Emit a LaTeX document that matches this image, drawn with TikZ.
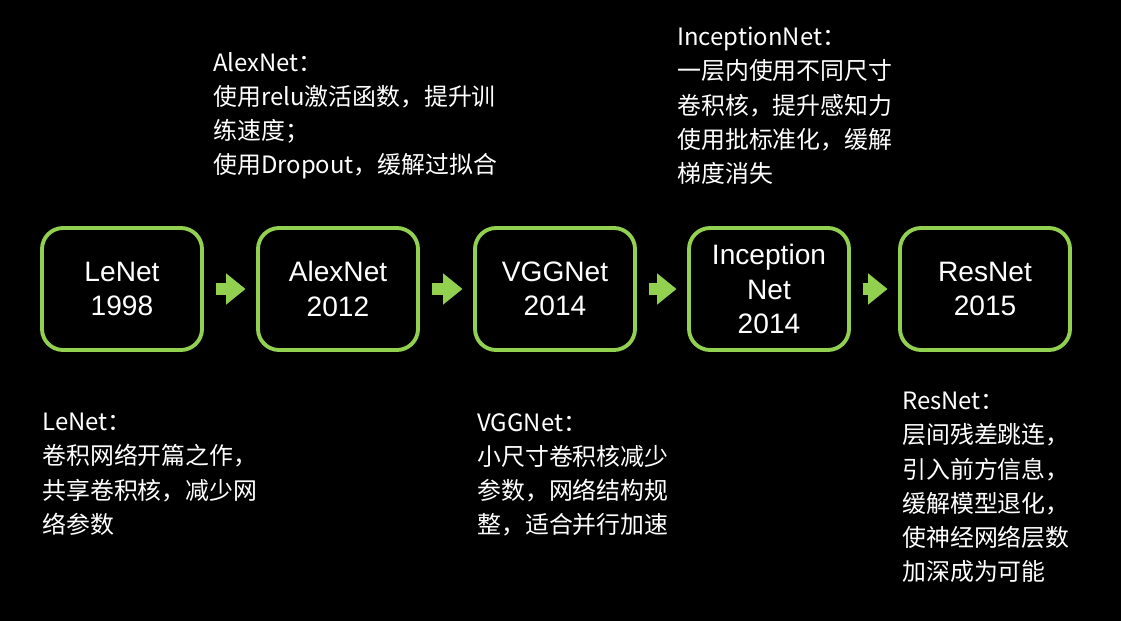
\documentclass[tikz,border=0pt]{standalone}
\usepackage{fontspec}
\setmainfont{Liberation Sans}
\newfontfamily\cjk{Noto Sans CJK SC}
\usetikzlibrary{positioning,arrows.meta}
\definecolor{netgreen}{HTML}{92D050}
\tikzstyle{net}=[draw=netgreen,line width=2.2pt,rounded corners=12pt,fill=black,
  text=white,minimum width=160*0.02cm,minimum height=122*0.02cm,align=center,
  font=\fontsize{16}{19.5}\selectfont,inner sep=2pt]
\tikzstyle{note}=[anchor=north west,text=white,align=left,inner sep=0pt,
  font=\cjk\fontsize{13.6}{19.4}\selectfont]
\tikzstyle{step arrow}=[draw=netgreen,line width=7pt,-{Triangle[length=11pt,width=17pt]}]
\newcommand{\newNet}[3]{\node[net](#1) at (#2){#3};}
\newcommand{\newStep}[2]{\draw[step arrow] ([xshift=7pt]#1.east) -- ([xshift=-6pt]#2.west);}
\begin{document}
\begin{tikzpicture}[x=0.02cm,y=-0.02cm]
  \fill[black] (0,0) rectangle (1121,621);
  \newNet{lenet}{122,289}{LeNet\\1998}
  \newNet{alexnet}{338,289}{AlexNet\\2012}
  \newNet{vggnet}{555,289}{VGGNet\\2014}
  \newNet{inception}{769,289}{Inception\\Net\\2014}
  \node[net,minimum width=170*0.02cm](resnet) at (985,289){ResNet\\2015};

  \newStep{lenet}{alexnet}
  \newStep{alexnet}{vggnet}
  \newStep{vggnet}{inception}
  \newStep{inception}{resnet}

  \node[note](alexnote) at (213,52){AlexNet：\\使用relu激活函数，提升训\\练速度；\\使用Dropout，缓解过拟合};
  \node[note](inceptionnote) at (677,27){InceptionNet：\\一层内使用不同尺寸\\卷积核，提升感知力\\使用批标准化，缓解\\梯度消失};
  \node[note](lenetnote) at (42,413){LeNet：\\卷积网络开篇之作，\\共享卷积核，减少网\\络参数};
  \node[note](vggnote) at (477,413){VGGNet：\\小尺寸卷积核减少\\参数，网络结构规\\整，适合并行加速};
  \node[note](resnote) at (902,392){ResNet：\\层间残差跳连，\\引入前方信息，\\缓解模型退化，\\使神经网络层数\\加深成为可能};
\end{tikzpicture}
\end{document}
